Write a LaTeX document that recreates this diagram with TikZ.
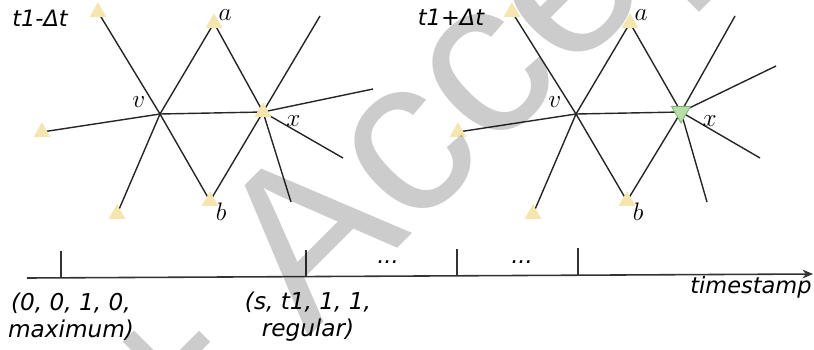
\documentclass[tikz,border=0pt]{standalone}
\usepackage{fontspec}
\setsansfont{DejaVu Sans}
\newfontfamily\wmfont{Liberation Sans}
\usepackage{xcolor}
\usepackage{tikz}
\usetikzlibrary{calc, arrows.meta, shapes.geometric, backgrounds}
\definecolor{vertexyel}{HTML}{F6E5AE}
\definecolor{vertexgrn}{HTML}{B9DDA6}
\tikzset{
    snapshot/.style={
        x=0.02cm, y=-0.02cm,
        font=\sffamily\itshape,
        >={Stealth[length=6pt, width=5pt]},
        vertex/.style={regular polygon, regular polygon sides=3, minimum size=11pt, inner sep=0pt, fill=vertexyel},
        target/.style={vertex, minimum size=12.5pt, shape border rotate=180, fill=vertexgrn, draw=green!45!black!55, thin},
        junction/.style={circle, inner sep=0pt, minimum size=0pt},
        link/.style={line width=0.8pt, black!85},
        axisline/.style={line width=0.9pt, black!80},
        tickmark/.style={line width=0.8pt, black!80},
        letter/.style={font=\fontsize{14}{16}\selectfont, inner sep=0.5pt},
        caption/.style={font=\fontsize{12.8}{15.3}\selectfont\sffamily\itshape, align=center, inner sep=0pt},
        tuple/.style={caption, font=\fontsize{13.2}{15.3}\selectfont\sffamily\itshape}
    }
}

\begin{document}
\begin{tikzpicture}[snapshot]
        \useasboundingbox (0,0) rectangle (814,349);

        % Snapshot at t1 - Delta t
        \node[caption] (Ltime) at (40,18) {t1-Δt};
        \node[junction, label={[letter, label distance=8pt]160:$v$}] (Lv) at (160,114) {};
        \node[vertex, label={[letter, label distance=9pt]-6:$x$}] (Lx) at (263,112) {};
        \node[vertex, label={[letter, label distance=-1pt]18:$a$}] (La) at (214,23) {};
        \node[vertex, label={[letter, label distance=-1pt]-5:$b$}] (Lb) at (210,201) {};
        \node[vertex] (Ltl) at (98,12) {};
        \node[vertex] (Ll) at (42,132) {};
        \node[vertex] (Lbl) at (117,214) {};
        \coordinate (Lx1) at (320,16);
        \coordinate (Lx2) at (373,89);
        \coordinate (Lx3) at (343,158);
        \coordinate (Lx4) at (291,202);

        % Snapshot at t1 + Delta t
        \node[caption] (Rtime) at (451,17) {t1+Δt};
        \node[junction, label={[letter, label distance=8pt]160:$v$}] (Rv) at (576,114) {};
        \node[target, label={[letter, label distance=8pt]-6:$x$}] (Rx) at (681,112) {};
        \node[vertex, label={[letter, label distance=-1pt]18:$a$}] (Ra) at (630,23) {};
        \node[vertex, label={[letter, label distance=-1pt]-5:$b$}] (Rb) at (627,201) {};
        \node[vertex] (Rtl) at (512,12) {};
        \node[vertex] (Rl) at (458,132) {};
        \node[vertex] (Rbl) at (533,214) {};
        \coordinate (Rx1) at (735,16);
        \coordinate (Rx2) at (776,66);
        \coordinate (Rx3) at (760,158);
        \coordinate (Rx4) at (707,202);

        % Edges go under the vertices
        \begin{scope}[on background layer]
            \foreach \g in {L,R} {
                \draw[link] (\g v.center) -- (\g tl.center);
                \draw[link] (\g v.center) -- (\g a.center);
                \draw[link] (\g v.center) -- (\g l.center);
                \draw[link] (\g v.center) -- (\g bl.center);
                \draw[link] (\g v.center) -- (\g b.center);
                \draw[link] (\g v.center) -- (\g x.center);
                \draw[link] (\g x.center) -- (\g a.center);
                \draw[link] (\g x.center) -- (\g b.center);
                \foreach \k in {1,...,4}
                    \draw[link] (\g x.center) -- (\g x\k);
            }
        \end{scope}

        % Time axis
        \coordinate (ax0) at (27,278);
        \coordinate (ax1) at (813,274);
        \draw[axisline, ->] (ax0) -- (ax1);
        \foreach \tx/\ty in {61/277.8, 306/276.6, 457/275.8, 578/275.2}
            \draw[tickmark] (\tx,\ty) -- ++(0,-27);
        \node[caption] (dots1) at (388,262) {...};
        \node[caption] (dots2) at (522,262) {...};
        \node[caption] (stamp) at (751,287) {timestamp};
        \node[tuple] (tup0) at (71,317) {(0, 0, 1, 0,\\maximum)};
        \node[tuple] (tup1) at (308,317) {(s, t1, 1, 1,\\regular)};

        % Watermark
        \begin{scope}
            \clip (0,0) rectangle (814,349);
            \node[anchor=base west, rotate=45, inner sep=0pt, text=black, text opacity=0.2,
                  font=\fontsize{126}{128}\selectfont\wmfont] (mark) at (173,473) {+ Accepted};
        \end{scope}

    \end{tikzpicture}
\end{document}
